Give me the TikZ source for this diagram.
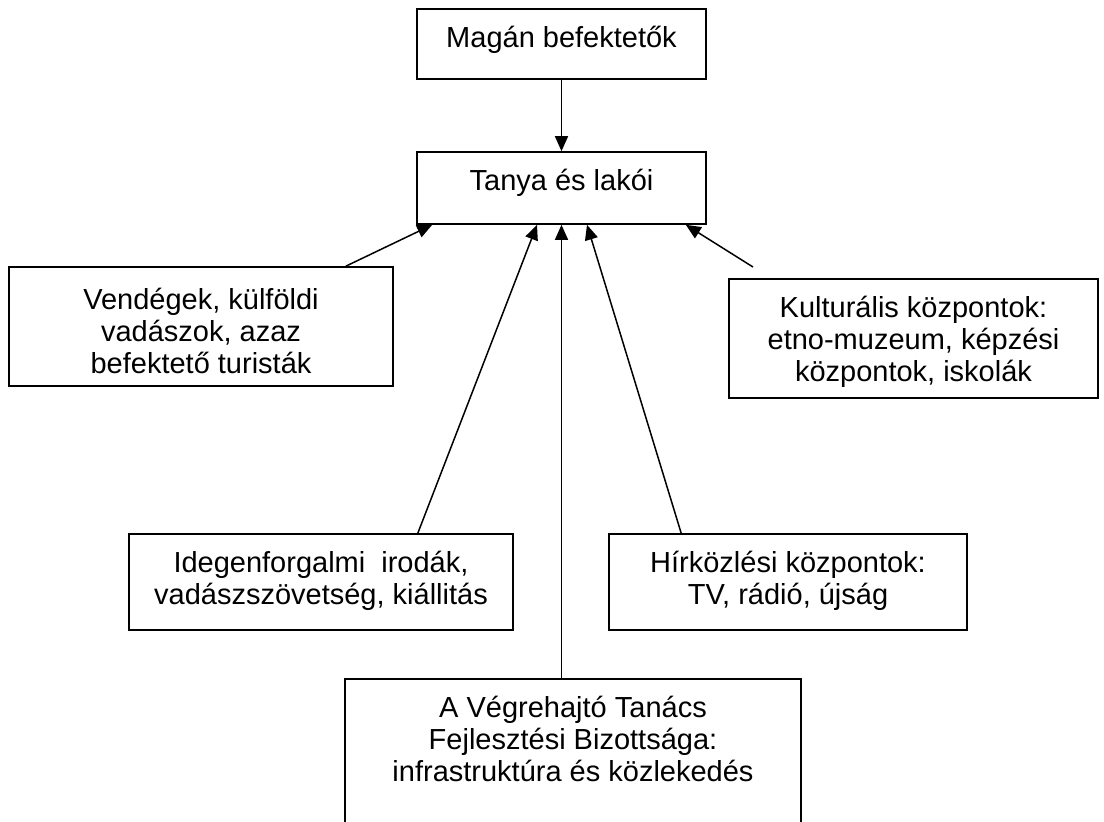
\documentclass[tikz,border=0pt]{standalone}
\usepackage{fontspec}
\setmainfont{Liberation Sans}
\usetikzlibrary{arrows.meta}
\tikzset{
  doboz/.style={draw,line width=0.8pt,rectangle,inner sep=0pt},
  szoveg/.style={anchor=north,align=center,inner sep=0pt,yshift=-7.9pt,font=\fontsize{14.5}{16.2}\selectfont},
  nyil/.style={-{Triangle[length=7.5pt,width=6.5pt]},line width=0.75pt},
}
\begin{document}
\begin{tikzpicture}[x=0.5pt,y=-0.5pt]
        \useasboundingbox (0,0) rectangle (1104,821);
        \clip (0,0) rectangle (1104,821);
        %% Boxes
        \node[doboz,minimum width=144.5pt,minimum height=35pt] (magan) at (561.5,44) {};
        \node[doboz,minimum width=144.5pt,minimum height=36pt] (tanya) at (561.5,188) {};
        \node[doboz,minimum width=192pt,minimum height=59.5pt] (vendeg) at (201,326.5) {};
        \node[doboz,minimum width=184.5pt,minimum height=59.5pt] (kultur) at (913.5,338.5) {};
        \node[doboz,minimum width=192pt,minimum height=48pt] (idegen) at (321,582) {};
        \node[doboz,minimum width=179pt,minimum height=48pt] (hir) at (788,582) {};
        \node[doboz,minimum width=228pt,minimum height=85pt] (vtb) at (573,764) {};
        %% Texts
        \node[szoveg] (magan-t) at (magan.north) {\strut Magán befektetők};
        \node[szoveg] (tanya-t) at (tanya.north) {\strut Tanya és lakói};
        \node[szoveg,yshift=-2pt] (vendeg-t) at (vendeg.north) {\strut Vendégek, külföldi\\vadászok, azaz\\befektető turisták};
        \node[szoveg] (kultur-t) at (kultur.north) {\strut Kulturális központok:\\etno-muzeum, képzési\\központok, iskolák};
        \node[szoveg] (idegen-t) at (idegen.north) {\strut Idegenforgalmi~ irodák,\\vadászszövetség, kiállitás};
        \node[szoveg] (hir-t) at (hir.north) {\strut Hírközlési központok:\\TV, rádió, újság};
        \node[szoveg] (vtb-t) at (vtb.north) {\strut A Végrehajtó Tanács\\Fejlesztési Bizottsága:\\infrastruktúra és közlekedés};
        %% Arrows
        \coordinate (kulturveg) at (753,267);
        \draw[nyil] (magan) -- (tanya);
        \draw[nyil] ([xshift=-24pt]vendeg.north east) -- ([xshift=8pt]tanya.south west);
        \draw[nyil] ([xshift=-48pt]idegen.north east) -- ([xshift=-12.25pt]tanya.south);
        \draw[nyil] (vtb.north -| tanya.south) -- (tanya.south);
        \draw[nyil] ([xshift=36.5pt]hir.north west) -- ([xshift=12.75pt]tanya.south);
        \draw[nyil] (kulturveg) -- ([xshift=-10.5pt]tanya.south east);
\end{tikzpicture}
\end{document}
